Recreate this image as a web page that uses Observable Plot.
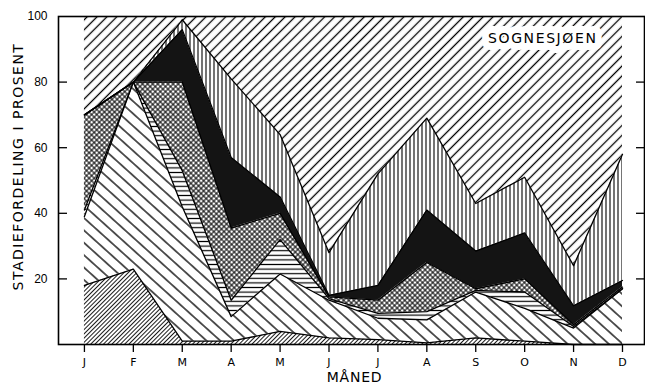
<!DOCTYPE html>
<html><head><meta charset="utf-8">
<script src="https://cdn.jsdelivr.net/npm/d3@7"></script>
<script src="https://cdn.jsdelivr.net/npm/@observablehq/plot@0.6"></script>
<style>
html,body{margin:0;padding:0;background:#fff;}
#chart svg{display:block;}
</style>
</head><body>
<svg width="0" height="0" style="position:absolute;left:0;top:0">
<defs>
  <pattern id="pFine" width="3" height="3" patternUnits="userSpaceOnUse" patternTransform="rotate(45)">
    <rect width="3" height="3" fill="#fff"/><line x1="1.5" y1="0" x2="1.5" y2="3" stroke="#000" stroke-width="0.9"/>
  </pattern>
  <pattern id="pBack" width="9.2" height="9.2" patternUnits="userSpaceOnUse" patternTransform="rotate(-48)">
    <rect width="9.2" height="9.2" fill="#fff"/><line x1="4.6" y1="0" x2="4.6" y2="9.2" stroke="#000" stroke-width="1.3"/>
  </pattern>
  <pattern id="pHoriz" width="4.6" height="4.6" patternUnits="userSpaceOnUse">
    <rect width="4.6" height="4.6" fill="#fff"/><line x1="0" y1="2.3" x2="4.6" y2="2.3" stroke="#000" stroke-width="1.2"/>
  </pattern>
  <pattern id="pCross" width="3.6" height="3.6" patternUnits="userSpaceOnUse" patternTransform="rotate(45)">
    <rect width="3.6" height="3.6" fill="#fff"/>
    <line x1="1.8" y1="0" x2="1.8" y2="3.6" stroke="#000" stroke-width="1"/>
    <line x1="0" y1="1.8" x2="3.6" y2="1.8" stroke="#000" stroke-width="1"/>
  </pattern>
  <pattern id="pVert" width="4" height="4" patternUnits="userSpaceOnUse">
    <rect width="4" height="4" fill="#fff"/><line x1="2" y1="0" x2="2" y2="4" stroke="#000" stroke-width="1.1"/>
  </pattern>
  <pattern id="pTop" width="7" height="7" patternUnits="userSpaceOnUse" patternTransform="rotate(45)">
    <rect width="7" height="7" fill="#fff"/><line x1="3.5" y1="0" x2="3.5" y2="7" stroke="#000" stroke-width="1.3"/>
  </pattern>
</defs>
</svg>
<div id="chart"></div>
<script>
// Month labels (Jan..Dec)
const months = ["J","F","M","A","M","J","J","A","S","O","N","D"];
// Stage shares in percent, bottom to top
const stage1 = [18, 23, 1, 1, 4, 2, 1.5, 0.5, 2, 1, 0, 0];
const stage2 = [21, 57, 41, 7.5, 17.5, 11.5, 6.5, 7, 14, 10, 5, 17];
const stage3 = [2, 0, 11, 5, 10.5, 0.5, 1.5, 2.5, 0.5, 5, 0.5, 0];
const stage4 = [29, 0, 27, 22, 8, 0.5, 4, 15, 0.5, 4, 0.5, 0.5];
const stage5 = [0, 0, 16, 21.5, 5, 0.5, 4.5, 16, 11.5, 14, 5.8, 2];
const stage6 = [0, 0, 3, 24, 19, 13, 34, 28, 14.5, 17, 12.2, 38.5];
const stage7 = [30, 20, 1, 19, 36, 72, 48, 31, 57, 49, 76, 42];
const yTicks = [20, 40, 60, 80, 100];
const station = "SOGNESJØEN";
const yTitle = "STADIEFORDELING I PROSENT";
const xTitle = "MÅNED";

const stages = [stage1, stage2, stage3, stage4, stage5, stage6, stage7];
const fills = ["url(#pFine)", "url(#pBack)", "url(#pHoriz)", "url(#pCross)", "#141414", "url(#pVert)", "url(#pTop)"];

const idx = d3.range(months.length);
let cum = idx.map(() => 0);
const layers = stages.map((s) => {
  const rows = idx.map(i => ({i, y1: cum[i], y2: cum[i] + s[i]}));
  cum = rows.map(r => r.y2);
  return rows;
});

const marks = [];
layers.forEach((rows, k) => {
  marks.push(Plot.areaY(rows, {x: "i", y1: "y1", y2: "y2", fill: fills[k], curve: "linear"}));
});
layers.slice(0, 6).forEach(rows => {
  marks.push(Plot.line(rows, {x: "i", y: "y2", stroke: "#000", strokeWidth: 1.3, curve: "linear"}));
});

marks.push(
  Plot.frame({stroke: "#000", strokeWidth: 1.6}),
  Plot.axisY({ticks: yTicks.slice(0, 4), tickSize: -9, tickFormat: () => "", strokeWidth: 1.3, label: null}),
  Plot.axisY({anchor: "right", ticks: yTicks.slice(0, 4), tickSize: -9, tickFormat: () => "", strokeWidth: 1.3, label: null}),
  Plot.axisY({ticks: yTicks, tickSize: 0, tickPadding: 11, label: null, fontSize: 12, fontFamily: "Liberation Sans"}),
  Plot.axisX({ticks: idx, tickSize: 8, tickPadding: 6, tickFormat: i => months[i], label: null, fontSize: 11, strokeWidth: 1.3}),
  Plot.text([station], {frameAnchor: "top-right", dx: -47, dy: 22, textAnchor: "end", lineAnchor: "middle",
    fontSize: 14, fill: "#000", stroke: "#fff", strokeWidth: 14, strokeLinejoin: "round", paintOrder: "stroke"}),
  Plot.text([yTitle], {frameAnchor: "left", dx: -40, dy: -14, rotate: -90, textAnchor: "middle", lineAnchor: "middle", fontSize: 14, fill: "#000"}),
  Plot.text([xTitle], {frameAnchor: "bottom", dx: 3, dy: 28, textAnchor: "middle", lineAnchor: "top", fontSize: 14, fill: "#000"})
);

const svg = Plot.plot({
  width: 645, height: 385,
  marginLeft: 58, marginRight: 1, marginTop: 16, marginBottom: 41,
  x: {domain: [-0.53, 11.45]},
  y: {domain: [0, 100]},
  style: {fontFamily: "DejaVu Sans", color: "#000", background: "#fff"},
  marks
});
d3.select(svg).selectAll("text").each(function() {
  const t = this.textContent;
  if (t === station) d3.select(this).style("letter-spacing", "1.6px");
  if (t === yTitle) d3.select(this).style("letter-spacing", "1.5px");
  if (t === xTitle) d3.select(this).style("letter-spacing", "0.8px");
});
document.getElementById("chart").appendChild(svg);
</script>
</body></html>
